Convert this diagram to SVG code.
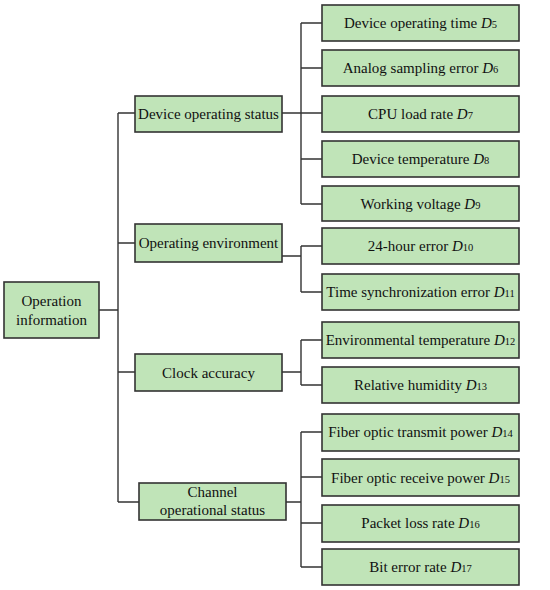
<svg xmlns="http://www.w3.org/2000/svg" width="550" height="590" viewBox="0 0 550 590">
<style>
rect{fill:#c0e4b8;stroke:#333;stroke-width:1.6}
text{font-family:"Liberation Serif","Times New Roman",serif;font-size:15px;fill:#111;text-anchor:middle}
.s{font-size:10.5px}
.i{font-style:italic}
#connectors path{fill:none;stroke:#333;stroke-width:1.4}
</style>
<rect x="0" y="0" width="550" height="590" style="fill:#fff;stroke:none"/>
<g id="connectors">
<path d="M99 310H118M118 113V502M118 113H135M118 243H135M118 372H135M118 502H139"/>
<path d="M282 113H322M301 23V204M301 23H322M301 68H322M301 159H322M301 204H322"/>
<path d="M282 256H301M301 246V292M301 246H322M301 292H322"/>
<path d="M282 372H301M301 340V385M301 340H322M301 385H322"/>
<path d="M286 502H301M301 432V567M301 432H322M301 477H322M301 523H322M301 567H322"/>
</g>
<g id="root"><rect x="4" y="282" width="95" height="56"/><text x="51.5" y="306">Operation</text><text x="51.5" y="325">information</text></g>
<g id="dos"><rect x="135" y="96" width="147" height="36"/><text x="208.5" y="119">Device operating status</text></g>
<g id="oe"><rect x="135" y="224" width="147" height="38"/><text x="208.5" y="248">Operating environment</text></g>
<g id="ca"><rect x="135" y="354" width="147" height="37"/><text x="208.5" y="378">Clock accuracy</text></g>
<g id="cos"><rect x="139" y="483" width="147" height="37"/><text x="212.5" y="497">Channel</text><text x="212.5" y="515">operational status</text></g>
<g id="d5"><rect x="322" y="5" width="197" height="36"/><text x="420.5" y="28">Device operating time <tspan class="i">D</tspan><tspan class="s">5</tspan></text></g>
<g id="d6"><rect x="322" y="50" width="197" height="36"/><text x="420.5" y="73">Analog sampling error <tspan class="i">D</tspan><tspan class="s">6</tspan></text></g>
<g id="d7"><rect x="322" y="96" width="197" height="36"/><text x="420.5" y="119">CPU load rate <tspan class="i">D</tspan><tspan class="s">7</tspan></text></g>
<g id="d8"><rect x="322" y="141" width="197" height="36"/><text x="420.5" y="164">Device temperature <tspan class="i">D</tspan><tspan class="s">8</tspan></text></g>
<g id="d9"><rect x="322" y="186" width="197" height="35"/><text x="420.5" y="209">Working voltage <tspan class="i">D</tspan><tspan class="s">9</tspan></text></g>
<g id="d10"><rect x="322" y="228" width="197" height="36"/><text x="420.5" y="251">24-hour error <tspan class="i">D</tspan><tspan class="s">10</tspan></text></g>
<g id="d11"><rect x="322" y="274" width="197" height="36"/><text x="420.5" y="297">Time synchronization error <tspan class="i">D</tspan><tspan class="s">11</tspan></text></g>
<g id="d12"><rect x="322" y="322" width="197" height="36"/><text x="420.5" y="345">Environmental temperature <tspan class="i">D</tspan><tspan class="s">12</tspan></text></g>
<g id="d13"><rect x="322" y="367" width="197" height="36"/><text x="420.5" y="390">Relative humidity <tspan class="i">D</tspan><tspan class="s">13</tspan></text></g>
<g id="d14"><rect x="322" y="414" width="197" height="37"/><text x="420.5" y="437">Fiber optic transmit power <tspan class="i">D</tspan><tspan class="s">14</tspan></text></g>
<g id="d15"><rect x="322" y="459" width="197" height="37"/><text x="420.5" y="483">Fiber optic receive power <tspan class="i">D</tspan><tspan class="s">15</tspan></text></g>
<g id="d16"><rect x="322" y="505" width="197" height="37"/><text x="420.5" y="528">Packet loss rate <tspan class="i">D</tspan><tspan class="s">16</tspan></text></g>
<g id="d17"><rect x="322" y="549" width="197" height="36"/><text x="420.5" y="572">Bit error rate <tspan class="i">D</tspan><tspan class="s">17</tspan></text></g>
</svg>
